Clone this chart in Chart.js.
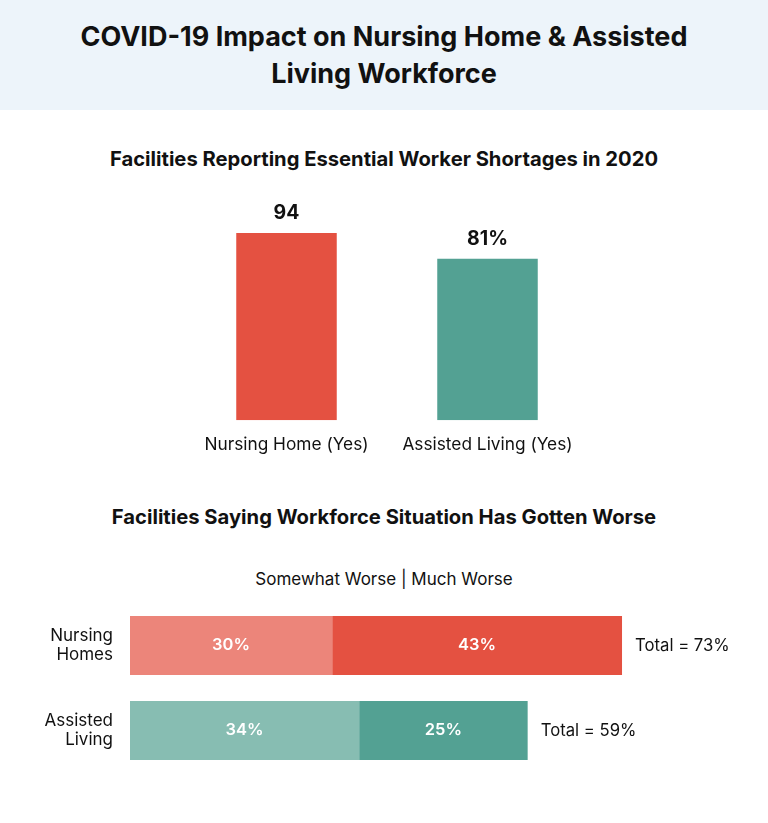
<!DOCTYPE html>
<html>
<head>
<meta charset="utf-8">
<script src="https://cdn.jsdelivr.net/npm/chart.js@4.4.1/dist/chart.umd.min.js"></script>
<style>
  body { margin: 0; background: #fff; font-family: Inter, "Open Sans", sans-serif; color: #111; }
  #page { position: relative; width: 768px; height: 823px; overflow: hidden; }
  #banner { position: absolute; left: 0; top: 0; width: 768px; height: 110px; background: #edf4fa; }
  #banner h1 { margin: 0; position: absolute; top: 18px; width: 100%; text-align: center;
               font-size: 27px; line-height: 37px; font-weight: 700; }
  .sub { position: absolute; left: 0; width: 768px; text-align: center; font-weight: 700; font-size: 20.2px; }
  .legend { position: absolute; left: 0; width: 768px; text-align: center; font-size: 17px; }
  .box { position: absolute; left: 0; }
  .box canvas { display: block; }
</style>
</head>
<body>
<div id="page">
  <div id="banner"><h1>COVID-19 Impact on Nursing Home &amp; Assisted<br>Living Workforce</h1></div>
  <div class="sub" style="top:146px">Facilities Reporting Essential Worker Shortages in 2020</div>
  <div class="box" style="top:190px"><canvas id="shortChart" width="768" height="290"></canvas></div>
  <div class="sub" style="top:504px">Facilities Saying Workforce Situation Has Gotten Worse</div>
  <div class="legend" style="top:569px">Somewhat Worse | Much Worse</div>
  <div class="box" style="top:600px"><canvas id="worseChart" width="768" height="175"></canvas></div>
</div>
<script>
// données du graphique du haut
const shortCategories = ['Nursing Home (Yes)', 'Assisted Living (Yes)'];
const shortValues = [94, 81];
const shortLabels = ['94', '81%'];

// données du graphique du bas
const worseCategories = [['Nursing', 'Homes'], ['Assisted', 'Living']];
const somewhatWorse = [30, 34];
const muchWorse = [43, 25];
const totalLabels = ['Total = 73%', 'Total = 59%'];

const FONT = 'Inter, "Open Sans", sans-serif';
Chart.defaults.font.family = FONT;
Chart.defaults.color = '#111';

// étiquettes au-dessus des barres
const topLabels = {
    id: 'topLabels',
    afterDatasetsDraw(chart) {
        const c = chart.ctx;
        const meta = chart.getDatasetMeta(0);
        c.save();
        c.font = '700 19.5px ' + FONT;
        c.fillStyle = '#111';
        c.textAlign = 'center';
        c.textBaseline = 'middle';
        meta.data.forEach((bar, i) => {
            c.fillText(shortLabels[i], bar.x, bar.y - 20);
        });
        c.restore();
    }
};

new Chart(document.getElementById('shortChart'), {
    type: 'bar',
    data: {
        labels: shortCategories,
        datasets: [{
            data: shortValues,
            backgroundColor: ['#e45141', '#53a193'],
            barPercentage: 1,
            categoryPercentage: 0.5
        }]
    },
    options: {
        responsive: false,
        animation: false,
        layout: { padding: { left: 186, right: 180, top: 31, bottom: 11 } },
        plugins: { legend: { display: false }, tooltip: { enabled: false } },
        scales: {
            x: {
                grid: { display: false, drawTicks: false },
                border: { display: false },
                ticks: { padding: 14, font: { size: 17.3 }, color: '#111' }
            },
            y: { display: false, min: 0, max: 100 }
        }
    },
    plugins: [topLabels]
});

// valeurs dans les segments + totaux à droite
const worseLabels = {
    id: 'worseLabels',
    afterDatasetsDraw(chart) {
        const c = chart.ctx;
        c.save();
        c.textBaseline = 'middle';
        chart.data.datasets.forEach((ds, d) => {
            chart.getDatasetMeta(d).data.forEach((bar, i) => {
                c.font = '600 16.5px ' + FONT;
                c.fillStyle = '#fff';
                c.textAlign = 'center';
                c.fillText(ds.data[i] + '%', (bar.x + bar.base) / 2, bar.y);
            });
        });
        const last = chart.getDatasetMeta(chart.data.datasets.length - 1);
        last.data.forEach((bar, i) => {
            c.font = '400 16.7px ' + FONT;
            c.fillStyle = '#111';
            c.textAlign = 'left';
            c.fillText(totalLabels[i], bar.x + 13, bar.y);
        });
        c.restore();
    }
};

new Chart(document.getElementById('worseChart'), {
    type: 'bar',
    data: {
        labels: worseCategories,
        datasets: [
            { label: 'Somewhat Worse', data: somewhatWorse, backgroundColor: ['#ec857a', '#87bdb2'], barPercentage: 1, categoryPercentage: 0.694 },
            { label: 'Much Worse', data: muchWorse, backgroundColor: ['#e45141', '#53a193'], barPercentage: 1, categoryPercentage: 0.694 }
        ]
    },
    options: {
        indexAxis: 'y',
        responsive: false,
        animation: false,
        layout: { padding: { left: 0, right: 31.4, top: 3, bottom: 2 } },
        plugins: { legend: { display: false }, tooltip: { enabled: false } },
        scales: {
            x: { display: false, stacked: true, min: 0, max: 90 },
            y: {
                stacked: true,
                grid: { display: false, drawTicks: false },
                border: { display: false },
                ticks: { padding: 17, font: { size: 17, lineHeight: 1.15 }, color: '#111' },
                afterFit(scale) {
                    scale.width = 130;
                    scale.paddingTop = 0;
                    scale.paddingBottom = 0;
                }
            }
        }
    },
    plugins: [worseLabels]
});
</script>
</body>
</html>
